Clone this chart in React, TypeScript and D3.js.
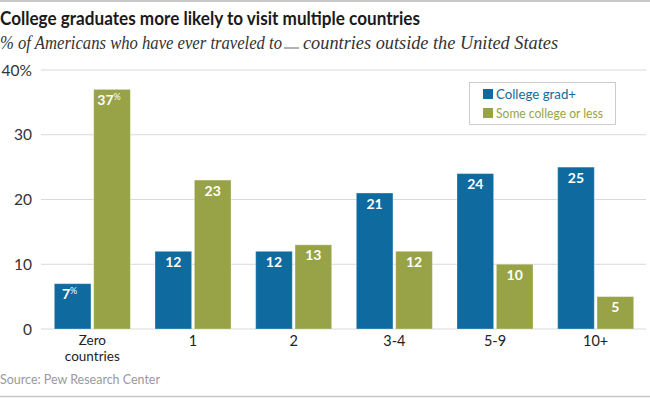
import React from "react";
import * as d3 from "d3";

const categories = ["Zero countries", "1", "2", "3-4", "5-9", "10+"];
const collegeGrad = [7, 12, 12, 21, 24, 25];
const someCollege = [37, 23, 13, 12, 10, 5];
const seriesNames = ["College grad+", "Some college or less"];
const yTicks = [0, 10, 20, 30, 40];

const W = 650;
const H = 398;
const BLUE = "#0f6a9f";
const GREEN = "#97a346";

export default function App() {
  const x = d3
    .scaleBand<string>()
    .domain(categories)
    .range([42, 646])
    .paddingInner(0.245)
    .paddingOuter(0.1225);
  const x1 = d3
    .scaleBand<string>()
    .domain(["a", "b"])
    .range([0, x.bandwidth()])
    .paddingInner(0.07);
  const y = d3.scaleLinear().domain([0, 40]).range([329, 70]);

  const series = [
    { key: "a", values: collegeGrad, color: BLUE },
    { key: "b", values: someCollege, color: GREEN },
  ];

  return (
    <svg
      width={W}
      height={H}
      style={{ position: "absolute", left: 0, top: 0, background: "#fff" }}
      fontFamily="Lato, 'Open Sans', sans-serif"
    >
      <line x1={0} x2={W} y1={1} y2={1} stroke="#c8c8c8" strokeWidth={2} />
      <text
        x={0}
        y={25}
        fontSize={18.5}
        fontWeight={700}
        fill="#1a1a1a"
        textLength={420}
        lengthAdjust="spacingAndGlyphs"
      >
        College graduates more likely to visit multiple countries
      </text>
      <g fontFamily="'Liberation Serif', 'DejaVu Serif', serif" fontStyle="italic" fontSize={18} fill="#333">
        <text x={0} y={49} textLength={282} lengthAdjust="spacingAndGlyphs">
          % of Americans who have ever traveled to
        </text>
        <line x1={284} x2={299} y1={48} y2={48} stroke="#999" strokeWidth={1.5} />
        <text x={303} y={49} textLength={255} lengthAdjust="spacingAndGlyphs">
          countries outside the United States
        </text>
      </g>

      {yTicks.map((t) => (
        <g key={t}>
          <line x1={41} x2={646} y1={y(t)} y2={y(t)} stroke="#d9d9d9" strokeWidth={1.2} />
          <text x={32} y={y(t) + 5.5} textAnchor="end" fontSize={15.5} fill="#333">
            {t === 40 ? "40%" : t}
          </text>
        </g>
      ))}

      {categories.map((c, i) => (
        <g key={c} transform={`translate(${x(c)},0)`}>
          {series.map((s) => {
            const v = s.values[i];
            const bx = x1(s.key)!;
            const bw = x1.bandwidth();
            const pct = i === 0;
            return (
              <g key={s.key}>
                <rect
                  x={bx}
                  y={y(v)}
                  width={bw}
                  height={y(0) - y(v)}
                  fill={s.color}
                  stroke="rgba(255,255,255,0.3)"
                  strokeWidth={1}
                />
                <text
                  x={bx + bw / 2 + (pct ? -3 : 0)}
                  y={y(v) + 15.5}
                  textAnchor="middle"
                  fontSize={14}
                  fontWeight={700}
                  fill="#fff"
                >
                  {v}
                  {pct ? (
                    <tspan fontSize={9} dy={-5} fontWeight={400}>
                      %
                    </tspan>
                  ) : null}
                </text>
              </g>
            );
          })}
          {c === "Zero countries" ? (
            <g fontSize={13.5} fill="#222" textAnchor="middle">
              <text x={x.bandwidth() / 2} y={345}>Zero</text>
              <text x={x.bandwidth() / 2} y={361}>countries</text>
            </g>
          ) : (
            <text x={x.bandwidth() / 2} y={346} textAnchor="middle" fontSize={14.5} fill="#222">
              {c}
            </text>
          )}
        </g>
      ))}

      <g>
        <rect x={469.5} y={82.5} width={146} height={42} fill="#fff" stroke="#ccc" strokeWidth={1} />
        {seriesNames.map((n, i) => (
          <g key={n} transform={`translate(483,${94 + i * 19})`}>
            <rect x={0} y={-5} width={10} height={10} fill={series[i].color} />
            <text x={13} y={5} fontSize={13} fill={series[i].color} textLength={i === 0 ? 80 : 107} lengthAdjust="spacingAndGlyphs">
              {n}
            </text>
          </g>
        ))}
      </g>

      <text x={0} y={384} fontSize={13} fill="#999" textLength={160} lengthAdjust="spacingAndGlyphs">
        Source: Pew Research Center
      </text>
      <line x1={0} x2={W} y1={396.5} y2={396.5} stroke="#c8c8c8" strokeWidth={1.5} />
    </svg>
  );
}
